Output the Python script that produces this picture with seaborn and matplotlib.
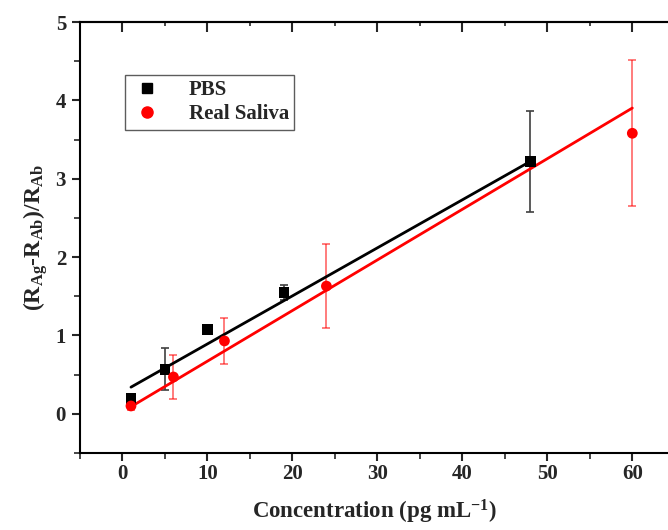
import numpy as np
import pandas as pd
import matplotlib
matplotlib.use("Agg")
import matplotlib.pyplot as plt
from matplotlib.lines import Line2D
from matplotlib.ticker import MultipleLocator
import seaborn as sns

# data
pbs_x = [1, 5, 10, 19, 48]
pbs_y = [0.20, 0.57, 1.08, 1.55, 3.22]
pbs_err = [0.05, 0.27, 0.04, 0.10, 0.64]

saliva_x = [1, 6, 12, 24, 60]
saliva_y = [0.10, 0.47, 0.93, 1.63, 3.58]
saliva_err = [0.05, 0.28, 0.29, 0.54, 0.93]

# linear fits (slope, intercept) as drawn
pbs_fit = [0.0613, 0.279]
saliva_fit = [0.0646, 0.026]

sns.set_style("ticks")
plt.rcParams['font.family'] = ['Liberation Serif', 'DejaVu Serif']
plt.rcParams['font.weight'] = 'bold'
plt.rcParams['mathtext.fontset'] = 'custom'
plt.rcParams['mathtext.rm'] = 'Liberation Serif:bold'
plt.rcParams['mathtext.it'] = 'Liberation Serif:bold'
plt.rcParams['mathtext.bf'] = 'Liberation Serif:bold'

pts = pd.DataFrame({
    "x": pbs_x + saliva_x,
    "y": pbs_y + saliva_y,
    "group": ["PBS"] * len(pbs_x) + ["Real Saliva"] * len(saliva_x),
})

fits = []
for name, xs, (m, b) in [("PBS", pbs_x, pbs_fit), ("Real Saliva", saliva_x, saliva_fit)]:
    xx = np.array([min(xs), max(xs)])
    fits.append(pd.DataFrame({"x": xx, "y": m * xx + b, "group": name}))
fits = pd.concat(fits)

colors = {"PBS": "black", "Real Saliva": "#ff0000"}

fig = plt.figure(figsize=(6.68, 5.30), dpi=100)
ax = fig.add_axes([80 / 668, 77 / 530, 588 / 668, 431 / 530])

# error bars
ax.errorbar(pbs_x, pbs_y, yerr=pbs_err, fmt='none', ecolor='#404040',
            elinewidth=1.2, capsize=3, capthick=1.2, zorder=2)
ax.errorbar(saliva_x, saliva_y, yerr=saliva_err, fmt='none', ecolor='#ff0000',
            alpha=0.6, elinewidth=1.2, capsize=3, capthick=1.2, zorder=2)

# fit lines
sns.lineplot(data=fits, x="x", y="y", hue="group", palette=colors,
             linewidth=2, legend=False, ax=ax, zorder=3)

# points
sns.scatterplot(data=pts, x="x", y="y", hue="group", style="group",
                markers={"PBS": "s", "Real Saliva": "o"},
                s=60, palette=colors, edgecolor='none',
                legend=False, ax=ax, zorder=4)

ax.set_xlim(-5, 64.2)
ax.set_ylim(-0.5, 5)
ax.xaxis.set_major_locator(MultipleLocator(10))
ax.xaxis.set_minor_locator(MultipleLocator(5))
ax.yaxis.set_major_locator(MultipleLocator(1))
ax.yaxis.set_minor_locator(MultipleLocator(0.5))
ax.set_xticks(range(0, 61, 10))

for side in ["left", "bottom", "top"]:
    ax.spines[side].set_linewidth(1.5)
    ax.spines[side].set_color('black')
ax.spines["right"].set_visible(False)

ax.tick_params(axis='both', which='major', direction='out', length=6, width=1.5,
               labelsize=15, pad=4)
ax.tick_params(axis='both', which='minor', direction='out', length=4, width=1.2)
ax.tick_params(axis='x', which='both', pad=2)

# top ticks pointing inwards
top = ax.secondary_xaxis('top')
top.xaxis.set_major_locator(MultipleLocator(10))
top.xaxis.set_minor_locator(MultipleLocator(5))
top.tick_params(which='major', direction='in', length=7, width=1.5, labeltop=False)
top.tick_params(which='minor', direction='in', length=3, width=1.2)
top.spines['top'].set_linewidth(1.5)

ax.set_xlabel("Concentration (pg mL$^{-1}$)", fontsize=16.5, fontweight='bold', labelpad=10)
ax.set_ylabel(r"(R$_{\mathrm{Ag}}$-R$_{\mathrm{Ab}}$)/R$_{\mathrm{Ab}}$", fontsize=17,
              fontweight='bold', labelpad=4)

handles = [
    Line2D([], [], marker='s', color='black', linestyle='none', markersize=7),
    Line2D([], [], marker='o', color='#ff0000', linestyle='none', markersize=8),
]
leg = ax.legend(handles, ["PBS", "Real Saliva"], loc='upper left',
                bbox_to_anchor=(0.0765, 0.877), borderaxespad=0,
                prop={'family': 'Liberation Serif', 'weight': 'bold', 'size': 15},
                frameon=True, fancybox=False, edgecolor='#333333',
                handletextpad=1.2, borderpad=0.25, labelspacing=0.2, handlelength=1.6)
leg.get_frame().set_linewidth(1.0)

fig.savefig("out.png", dpi=100)
